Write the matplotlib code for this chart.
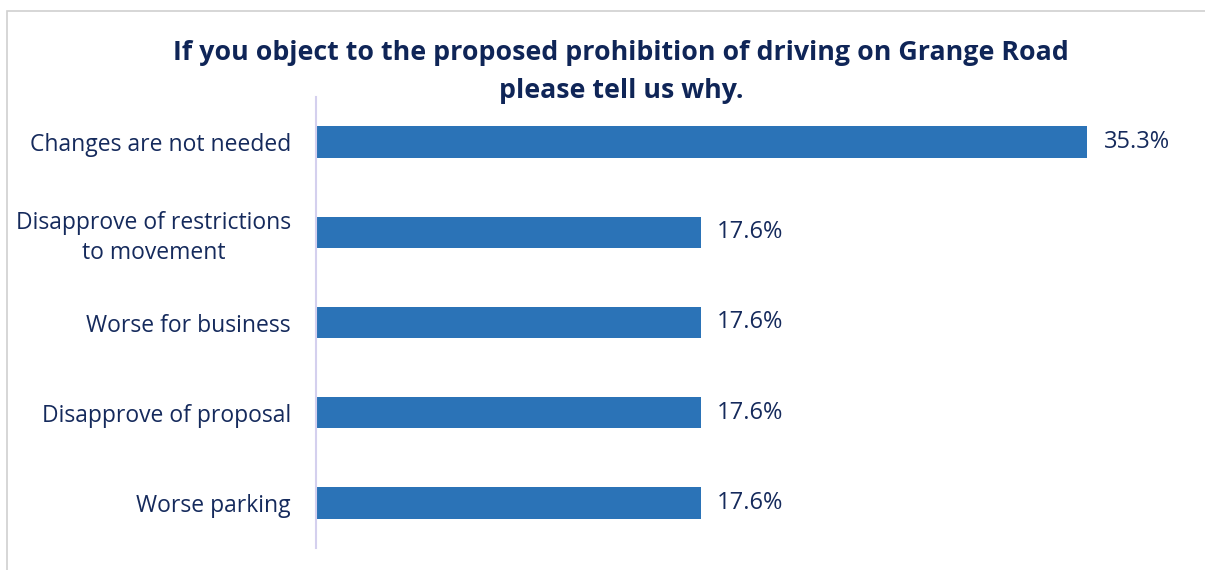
import matplotlib.pyplot as plt
from matplotlib.patches import Rectangle

# Data
categories = ['Changes are not needed',
              'Disapprove of restrictions\nto movement',
              'Worse for business',
              'Disapprove of proposal',
              'Worse parking']
values = [35.3, 17.6, 17.6, 17.6, 17.6]
title = 'If you object to the proposed prohibition of driving on Grange Road\nplease tell us why.'

bar_color = '#2B73B7'
text_color = '#152A5C'
plt.rcParams['font.family'] = ['Open Sans', 'DejaVu Sans']

fig = plt.figure(figsize=(12.05, 5.70), dpi=100)

# chart frame (only top/left visible in the crop)
fig.add_artist(Rectangle((7 / 1205, -0.1), 1.2, (570 - 11) / 570 + 0.1,
                         transform=fig.transFigure, fill=False,
                         edgecolor='#D0D0D0', linewidth=1.2))

ax = fig.add_axes([316 / 1205, 22 / 570, 874 / 1205, 451 / 570])
y = list(range(len(categories)))
ax.barh(y, values, height=0.35, color=bar_color)
ax.set_ylim(len(categories) - 0.5, -0.5)
ax.set_xlim(0, 40)
ax.set_yticks(y)
ax.set_yticklabels(categories, fontsize=16.5, color=text_color,
                   linespacing=1.3, multialignment='center')
ax.tick_params(axis='y', length=0, pad=18)
ax.set_xticks([])
for s in ['top', 'right', 'bottom']:
    ax.spines[s].set_visible(False)
ax.spines['left'].set_color('#D4D0EE')
ax.spines['left'].set_linewidth(1.5)

for yi, v in zip(y, values):
    ax.text(v + 0.75, yi, f'{v:.1f}%', va='center', ha='left',
            fontsize=17, color=text_color)

fig.text(621 / 1205, 1 - 72 / 570, title, ha='center', va='center',
         fontsize=19.3, fontweight='bold', color='#0F2557', linespacing=1.6)

fig.savefig('out.png', dpi=100)
